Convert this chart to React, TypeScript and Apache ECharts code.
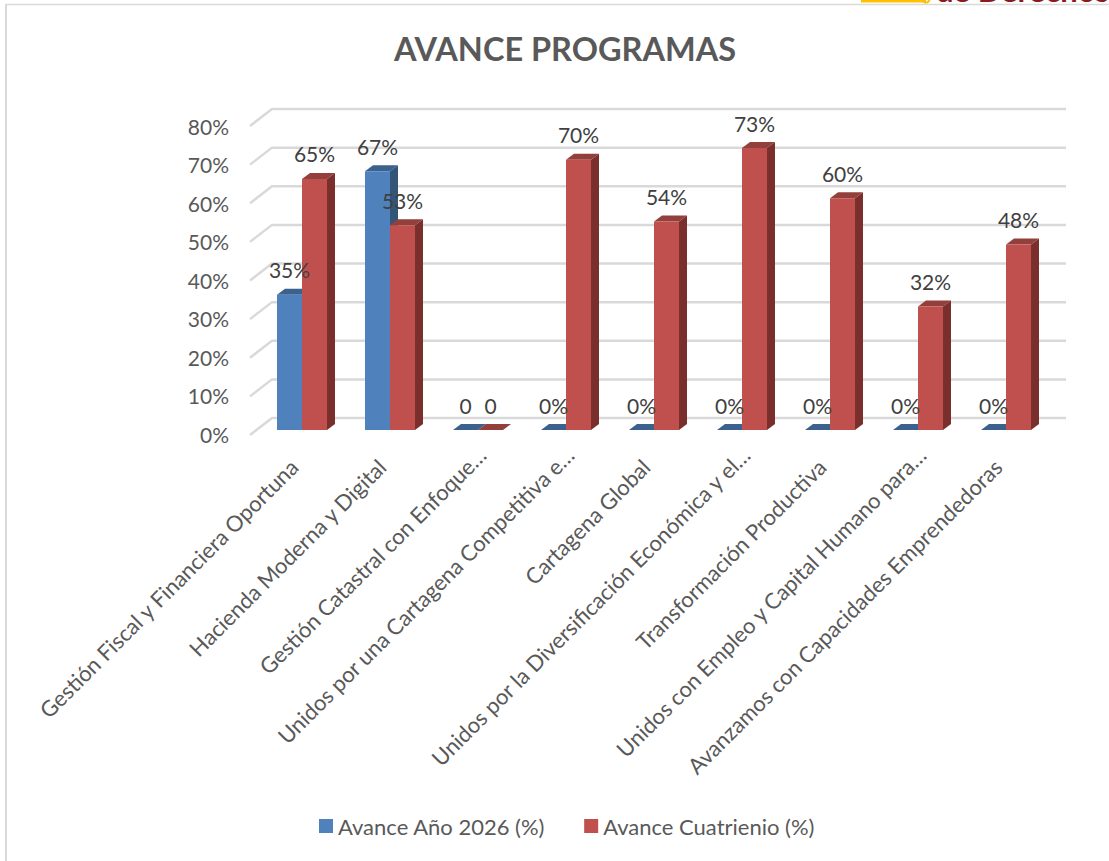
import React, { useEffect, useRef } from "react";
import * as echarts from "echarts";

const categories = [
  "Gestión Fiscal y Financiera Oportuna",
  "Hacienda Moderna y Digital",
  "Gestión Catastral con Enfoque…",
  "Unidos por una Cartagena Competitiva e…",
  "Cartagena Global",
  "Unidos por la Diversificación Económica y el…",
  "Transformación Productiva",
  "Unidos con Empleo y Capital Humano para…",
  "Avanzamos con Capacidades Emprendedoras",
];
const avanceAnio = [35, 67, 0, 0, 0, 0, 0, 0, 0];
const avanceCuatrienio = [65, 53, 0, 70, 54, 73, 60, 32, 48];
const etiquetasAnio = ["35%", "67%", "0", "0%", "0%", "0%", "0%", "0%", "0%"];
const etiquetasCuatrienio = ["65%", "53%", "0", "70%", "54%", "73%", "60%", "32%", "48%"];
const yTicks = [0, 10, 20, 30, 40, 50, 60, 70, 80];

const FONT = "Lato";
const BLUE = { front: "#4f81bd", top: "#3b618e", side: "#335578" };
const RED = { front: "#c0504d", top: "#93403d", side: "#7b2f2d" };

function barRenderer(side: number, c: typeof BLUE) {
  return (params: any, api: any) => {
    const cat = api.value(0);
    const val = api.value(1);
    const [cx, yTop] = api.coord([cat, val]);
    const [, y0] = api.coord([cat, 0]);
    const w = 25;
    const x0 = side < 0 ? cx - w : cx;
    const x1 = x0 + w;
    const dx = 8;
    const dy = 6;
    const children: any[] = [
      { type: "polygon", shape: { points: [[x0, yTop], [x0 + dx, yTop - dy], [x1 + dx, yTop - dy], [x1, yTop]] }, style: { fill: c.top } },
    ];
    if (val > 0) {
      children.push(
        { type: "polygon", shape: { points: [[x1, yTop], [x1 + dx, yTop - dy], [x1 + dx, y0 - dy], [x1, y0]] }, style: { fill: c.side } },
        { type: "rect", shape: { x: x0, y: yTop, width: w, height: y0 - yTop }, style: { fill: c.front } },
      );
    }
    return { type: "group", children };
  };
}

function labelRenderer(side: number, labels: string[]) {
  return (params: any, api: any) => {
    const cat = api.value(0);
    const [cx, yTop] = api.coord([cat, api.value(1)]);
    return {
      type: "text",
      style: {
        x: cx + side * 12.5,
        y: yTop - 25,
        text: labels[params.dataIndex],
        fill: "#404040",
        font: `21px ${FONT}`,
        align: "center",
        verticalAlign: "middle",
      },
    };
  };
}

function wallRenderer(params: any, api: any) {
  const [, y] = api.coord([0, api.value(0)]);
  const sys = params.coordSys;
  return {
    type: "polyline",
    shape: {
      points: [
        [sys.x - 8, y + 5],
        [sys.x + 14, y - 12],
        [sys.x + sys.width + 16, y - 12],
      ],
    },
    style: { stroke: "#d9d9d9", lineWidth: 2.5, fill: "none" },
  };
}

const labelAxis = (gridIndex: number, margin: number, pick: (s: string) => boolean) => ({
  type: "category",
  gridIndex,
  data: categories,
  axisLine: { show: false },
  axisTick: { show: false },
  axisLabel: {
    interval: 0,
    rotate: 45,
    margin,
    fontFamily: FONT,
    fontSize: 22,
    color: "#595959",
    formatter: (s: string) => (pick(s) ? s : ""),
  },
});

const hiddenValueAxis = (gridIndex: number) => ({
  type: "value",
  gridIndex,
  min: 0,
  max: 80,
  interval: 10,
  axisLine: { show: false },
  axisTick: { show: false },
  splitLine: { show: false },
  axisLabel: { show: false },
});

export default function App() {
  const ref = useRef<HTMLDivElement>(null);
  useEffect(() => {
    const chart = echarts.init(ref.current!, undefined, { renderer: "svg" });
    chart.setOption({
      animation: false,
      backgroundColor: "#ffffff",
      title: {
        text: "AVANCE PROGRAMAS",
        left: 560,
        top: 27,
        textAlign: "center",
        textStyle: { fontFamily: FONT, fontSize: 32.5, fontWeight: "bold", color: "#595959" },
      },
      legend: {
        left: 314,
        top: 810,
        itemWidth: 14,
        itemHeight: 14,
        itemGap: 39,
        icon: "rect",
        data: [
          { name: "Avance Año 2026 (%)", itemStyle: { color: BLUE.front } },
          { name: "Avance Cuatrienio (%)", itemStyle: { color: RED.front } },
        ],
        textStyle: { fontFamily: FONT, fontSize: 22, color: "#595959" },
      },
      grid: [
        { left: 258, top: 121, width: 792, height: 309 },
        { left: 250, top: 126, width: 792, height: 308 },
        { left: 262, top: 114, width: 792, height: 308 },
      ],
      xAxis: [
        {
          type: "category",
          gridIndex: 0,
          data: categories,
          axisLine: { show: false },
          axisTick: { show: false },
          axisLabel: { show: false },
        },
        labelAxis(1, 29, (s) => !s.endsWith("…")),
        labelAxis(2, 29, (s) => s.endsWith("…")),
      ],
      yAxis: [
        hiddenValueAxis(0),
        {
          ...hiddenValueAxis(1),
          axisLabel: {
            margin: 21,
            fontFamily: FONT,
            fontSize: 21,
            color: "#595959",
            formatter: (v: number) => `${v}%`,
          },
        },
        hiddenValueAxis(2),
      ],
      graphic: [
        { type: "line", shape: { x1: 6, y1: 5, x2: 6, y2: 861 }, style: { stroke: "#d9d9d9", lineWidth: 2 } },
        { type: "line", shape: { x1: 5, y1: 4.5, x2: 1109, y2: 4.5 }, style: { stroke: "#d9d9d9", lineWidth: 1.5 } },
        { type: "line", shape: { x1: 861, y1: 1, x2: 926, y2: 1 }, style: { stroke: "#ffc000", lineWidth: 3 } },
        { type: "circle", shape: { cx: 926, cy: -1, r: 3.5 }, style: { stroke: "#ffc000", lineWidth: 2, fill: "none" } },
        { type: "text", style: { x: 936, y: 5.5, text: "de Derechos", fill: "#8b1a1f", font: `bold 31px ${FONT}`, textVerticalAlign: "bottom" } },
      ],
      series: [
        { type: "custom", name: "wall", silent: true, z: 1, renderItem: wallRenderer, data: yTicks.map((t) => [t]), encode: { y: 0 } },
        { type: "custom", name: "Avance Año 2026 (%)", z: 2, renderItem: barRenderer(-1, BLUE), data: avanceAnio.map((v, i) => [i, v]), encode: { x: 0, y: 1 } },
        { type: "custom", name: "Avance Cuatrienio (%)", z: 3, renderItem: barRenderer(1, RED), data: avanceCuatrienio.map((v, i) => [i, v]), encode: { x: 0, y: 1 } },
        { type: "custom", name: "labels1", silent: true, z: 4, renderItem: labelRenderer(-1, etiquetasAnio), data: avanceAnio.map((v, i) => [i, v]), encode: { x: 0, y: 1 } },
        { type: "custom", name: "labels2", silent: true, z: 4, renderItem: labelRenderer(1, etiquetasCuatrienio), data: avanceCuatrienio.map((v, i) => [i, v]), encode: { x: 0, y: 1 } },
      ],
    });
    return () => chart.dispose();
  }, []);
  return <div ref={ref} style={{ position: "absolute", left: 0, top: 0, width: 1109, height: 861 }} />;
}
